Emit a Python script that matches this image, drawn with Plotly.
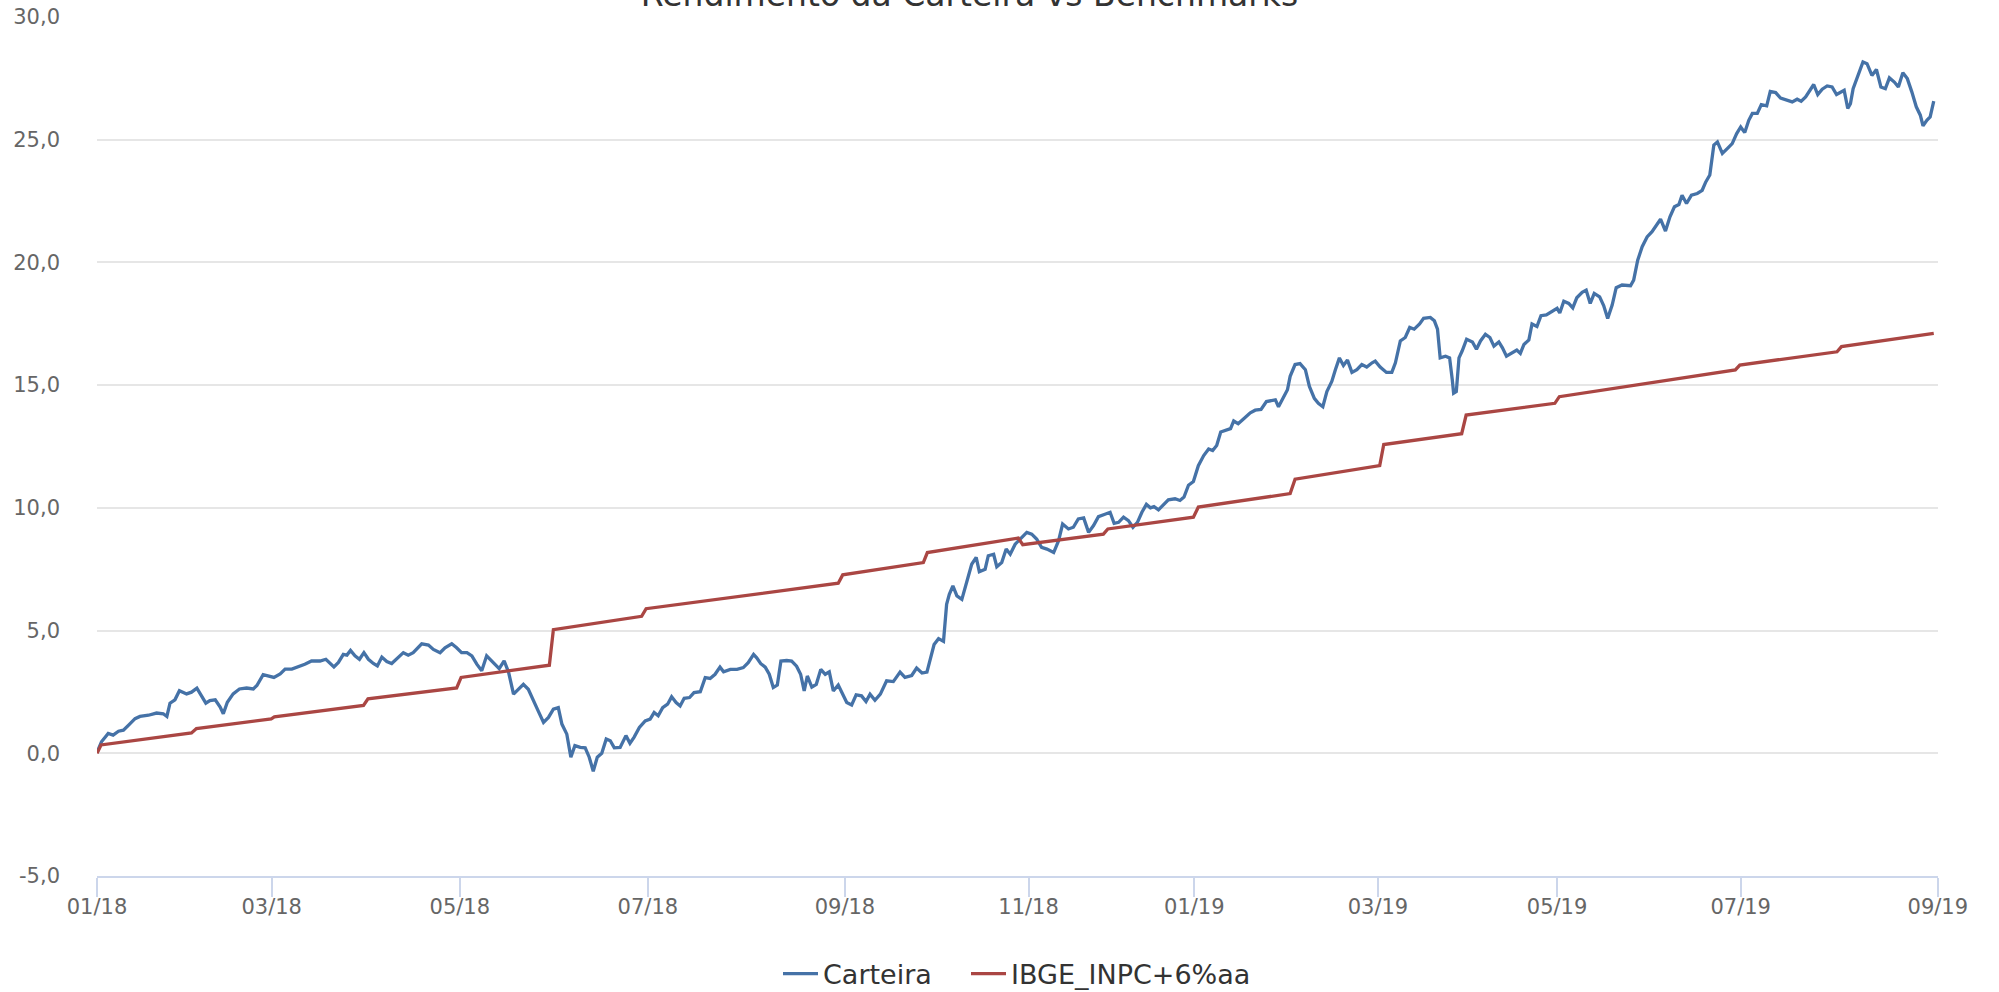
import plotly.graph_objects as go
import numpy as np

# ---------------- data ----------------
titulo = "Rendimento da Carteira vs Benchmarks"
serie_nomes = ["Carteira", "IBGE_INPC+6%aa"]

# trading-day index (pregão) and cumulative return (%) for Carteira
carteira_dia = [
    0, 1.0, 2.5, 3.6, 4.8, 5.9, 7.0, 8.5, 9.6, 11.5, 13.3, 14.8, 15.6, 16.3, 17.4, 18.4, 20.0, 21.1, 22.3, 23.4,
    24.3, 25.2, 26.4, 27.5, 28.2, 29.1, 30.4, 31.8, 33.4, 34.9, 35.7, 37.1, 38.3, 39.5, 40.9, 42.0, 43.5, 45.0,
    46.4, 47.9, 49.8, 51.1, 52.0, 52.9, 53.9, 55.0, 55.8, 56.6, 57.6, 58.6, 59.6, 60.6, 61.7, 62.6, 63.6, 64.7,
    65.8, 66.9, 68.4, 69.5, 70.6, 72.5, 74.0, 75.1, 76.6, 77.7, 79.2, 80.3, 81.4, 82.6, 83.7, 84.8, 85.9, 87.0,
    88.5, 89.8, 90.9, 91.9, 93.0, 94.1, 95.2, 96.3, 97.4, 98.5, 99.7, 100.8, 101.9, 103.0, 103.8, 104.9, 105.8,
    106.7, 107.9, 109.0, 109.9, 110.8, 111.7, 112.7, 113.7, 114.6, 115.5, 116.8, 118.1, 119.0, 119.9, 121.1,
    122.4, 123.5, 124.4, 125.3, 126.3, 127.4, 128.3, 129.3, 130.2, 131.1, 132.3, 133.3, 134.7, 135.8, 136.9,
    138.0, 139.1, 139.9, 141.4, 142.9, 144.3, 145.4, 146.6, 147.3, 148.2, 149.2, 150.1, 151.0, 151.9, 152.7,
    154.0, 155.1, 156.2, 157.1, 157.9, 158.6, 159.6, 160.6, 161.6, 162.6, 163.5, 164.4, 165.5, 166.5, 167.4,
    168.5, 169.5, 170.7, 171.7, 172.6, 173.7, 174.9, 176.3, 177.8, 179.3, 180.4, 181.9, 183.0, 184.2, 185.3,
    186.0, 186.9, 187.9, 189.0, 189.7, 190.3, 191.1, 192.0, 193.1, 194.2, 195.3, 196.3, 197.0, 198.3, 199.0,
    200.2, 200.9, 202.0, 203.0, 203.9, 205.0, 206.5, 207.6, 208.7, 209.8, 210.9, 212.1, 213.6, 214.7, 215.6,
    216.9, 218.0, 219.1, 220.3, 221.4, 222.5, 223.6, 224.9, 226.2, 227.1, 228.1, 229.2, 230.3, 231.3, 232.3,
    233.3, 234.3, 235.2, 236.0, 237.0, 238.1, 239.2, 240.7, 241.8, 242.7, 243.7, 244.8, 245.9, 247.1, 248.2,
    249.1, 250.0, 250.9, 252.3, 253.1, 253.8, 254.8, 256.1, 257.5, 258.6, 259.9, 261.1, 262.3, 263.1, 263.8,
    264.9, 265.8, 266.4, 267.5, 268.6, 269.8, 270.7, 271.8, 272.7, 273.7, 274.6, 275.7, 276.5, 277.4, 278.3,
    279.2, 280.2, 281.3, 282.4, 283.5, 284.7, 285.4, 286.5, 287.9, 289.1, 289.9, 291.0, 292.1, 293.1, 294.1,
    295.3, 296.2, 297.7, 298.6, 299.3, 299.9, 301.1, 302.0, 302.6, 302.9, 303.5, 304.1, 304.8, 305.8, 307.1,
    308.0, 308.9, 310.0, 311.0, 311.9, 313.0, 313.8, 314.7, 316.0, 317.0, 317.8, 318.6, 319.7, 320.4, 321.5,
    322.4, 323.6, 325.0, 326.0, 326.6, 327.5, 328.6, 329.5, 330.4, 331.6, 332.5, 333.4, 334.3, 335.5, 336.4,
    337.3, 338.3, 339.2, 340.5, 342.4, 343.1, 344.0, 345.0, 346.1, 347.2, 348.3, 349.1, 350.2, 351.2, 352.2,
    353.2, 353.9, 354.9, 356.0, 357.3, 358.4, 359.2, 360.1, 361.0, 361.8, 362.9, 364.0, 365.1, 366.1, 367.0,
    367.9, 368.8, 369.6, 370.7, 371.6, 372.8, 373.6, 374.8, 375.9, 377.4, 378.5, 379.6, 380.5, 381.5, 382.4,
    383.3, 384.2, 385.2, 386.3, 387.4, 388.4, 389.2, 390.1, 390.9, 391.5, 392.1, 393.0, 394.3, 395.2, 396.3,
    397.3, 398.3, 399.3, 400.2, 401.3, 402.2, 403.2, 404.2, 405.2, 406.2, 407.1, 407.7, 408.6, 409.3, 410.1,
]
carteira_valor = [
    0.03, 0.47, 0.81, 0.74, 0.90, 0.94, 1.14, 1.41, 1.50, 1.55, 1.64, 1.61, 1.50, 2.04, 2.18, 2.55, 2.42, 2.49, 2.65, 2.28,
    2.04, 2.15, 2.18, 1.88, 1.61, 2.08, 2.42, 2.62, 2.66, 2.62, 2.76, 3.20, 3.16, 3.09, 3.23, 3.43, 3.43, 3.52,
    3.63, 3.76, 3.76, 3.83, 3.66, 3.52, 3.70, 4.03, 4.00, 4.19, 3.97, 3.83, 4.10, 3.83, 3.66, 3.56, 3.92, 3.74,
    3.66, 3.83, 4.10, 4.00, 4.10, 4.46, 4.41, 4.23, 4.10, 4.30, 4.46, 4.30, 4.10, 4.10, 3.97, 3.63, 3.36, 3.97,
    3.70, 3.45, 3.77, 3.30, 2.41, 2.61, 2.81, 2.61, 2.14, 1.73, 1.26, 1.46, 1.80, 1.86, 1.19, 0.78, -0.16,
    0.31, 0.24, 0.22, -0.16, -0.73, -0.16, 0.00, 0.58, 0.51, 0.22, 0.24, 0.72, 0.41, 0.65, 1.05,
    1.32, 1.39, 1.66, 1.53, 1.86, 2.00, 2.30, 2.07, 1.93, 2.24, 2.27, 2.47, 2.51, 3.08, 3.05,
    3.22, 3.51, 3.32, 3.42, 3.42, 3.49, 3.69, 4.03, 3.89, 3.65, 3.51, 3.22, 2.68, 2.78, 3.76,
    3.78, 3.76, 3.55, 3.22, 2.54, 3.15, 2.70, 2.81, 3.42, 3.22, 3.32, 2.54, 2.78, 2.41, 2.07,
    1.97, 2.38, 2.34, 2.11, 2.41, 2.16, 2.41, 2.95, 2.92, 3.31, 3.09, 3.17, 3.47, 3.27, 3.31,
    3.81, 4.43, 4.67, 4.56, 6.07, 6.48, 6.82, 6.41, 6.27, 7.02, 7.70, 7.98, 7.40, 7.50, 8.05,
    8.11, 7.60, 7.77, 8.32, 8.11, 8.52, 8.80, 9.00, 8.93, 8.73, 8.39, 8.32, 8.18, 8.66, 9.34,
    9.14, 9.21, 9.55, 9.59, 9.00, 9.28, 9.64, 9.73, 9.82, 9.37, 9.41, 9.62, 9.48, 9.21, 9.41,
    9.82, 10.14, 10.00, 10.05, 9.92, 10.14, 10.33, 10.37, 10.30, 10.44, 10.92, 11.07, 11.72, 12.13, 12.40,
    12.34, 12.54, 13.09, 13.16, 13.23, 13.54, 13.43, 13.64, 13.87, 13.98, 14.01, 14.33, 14.37, 14.40, 14.12,
    14.53, 14.81, 15.36, 15.84, 15.88, 15.63, 14.95, 14.46, 14.26, 14.12, 14.74, 15.15, 15.63, 16.11, 15.80,
    16.02, 15.52, 15.63, 15.84, 15.74, 15.91, 15.98, 15.74, 15.52, 15.52, 15.91, 16.80, 16.94, 17.35, 17.28,
    17.49, 17.72, 17.76, 17.62, 17.28, 16.11, 16.18, 16.11, 15.22, 14.67, 14.74, 16.11, 16.39, 16.87, 16.76,
    16.46, 16.80, 17.07, 16.94, 16.59, 16.76, 16.52, 16.18, 16.32, 16.43, 16.29, 16.66, 16.84, 17.49, 17.39,
    17.83, 17.86, 18.00, 18.13, 17.94, 18.42, 18.33, 18.15, 18.56, 18.78, 18.87, 18.33, 18.74, 18.60, 18.24,
    17.72, 18.26, 18.97, 19.08, 19.05, 19.28, 20.09, 20.64, 21.04, 21.25, 21.55, 21.76, 21.28, 21.86, 22.27,
    22.36, 22.74, 22.40, 22.74, 22.81, 22.94, 23.28, 23.56, 24.78, 24.91, 24.44, 24.64, 24.84, 25.25, 25.52,
    25.29, 25.79, 26.07, 26.07, 26.43, 26.38, 26.97, 26.92, 26.70, 26.61, 26.54, 26.65, 26.57, 26.74, 27.01,
    27.25, 26.84, 27.06, 27.19, 27.15, 26.84, 26.92, 27.01, 26.27, 26.47, 27.08, 27.56, 28.17, 28.10, 27.62,
    27.86, 27.15, 27.08, 27.52, 27.35, 27.15, 27.73, 27.49, 26.95, 26.34, 26.00, 25.57, 25.80, 25.93, 26.57,
]

# benchmark (vertices of the monthly steps)
bench_dia = [0, 0.9, 21.1, 22.2, 38.9, 39.6, 59.5, 60.5, 80.3, 81.3, 101.0, 101.9, 121.6, 122.6, 165.5, 166.5,
             184.5, 185.4, 205.7, 206.7, 224.7, 225.7, 244.8, 245.9, 266.4, 267.5, 286.4, 287.3, 304.7, 305.7,
             325.5, 326.5, 365.8, 366.8, 388.5, 389.5, 410.1]
bench_valor = [0.00, 0.34, 0.83, 1.01, 1.40, 1.48, 1.95, 2.22, 2.66, 3.09, 3.59, 5.04, 5.58, 5.89, 6.93, 7.27,
               7.77, 8.18, 8.77, 8.50, 8.93, 9.14, 9.62, 10.03, 10.58, 11.17, 11.72, 12.58, 13.02, 13.78,
               14.26, 14.53, 15.62, 15.82, 16.36, 16.57, 17.11]

# trading sessions per month, Jan/2018 .. Aug/2019
pregoes_por_mes = [21, 18, 21, 21, 21, 21, 21, 23, 19, 22, 19, 18, 21, 20, 19, 21, 22, 19, 22, 22]
x_tick_labels = ["01/18", "03/18", "05/18", "07/18", "09/18", "11/18", "01/19", "03/19", "05/19", "07/19", "09/19"]
y_ticks = [-5, 0, 5, 10, 15, 20, 25, 30]
y_tick_labels = ["-5,0", "0,0", "5,0", "10,0", "15,0", "20,0", "25,0", "30,0"]

# ---------------- figure ----------------
cum = np.concatenate([[0], np.cumsum(pregoes_por_mes)])
x_tick_vals = [int(v) for v in cum[::2]]

FONT = "DejaVu Sans"
W, H = 1999, 992
fig = go.Figure()
fig.add_trace(go.Scatter(x=carteira_dia, y=carteira_valor, mode="lines", name=serie_nomes[0],
                         line=dict(color="#4572A7", width=3.3), legend="legend"))
fig.add_trace(go.Scatter(x=bench_dia, y=bench_valor, mode="lines", name=serie_nomes[1],
                         line=dict(color="#AA4643", width=3.3), legend="legend2"))

legend_common = dict(orientation="h", yref="container", y=1 - 974 / H, yanchor="middle",
                     xref="container", xanchor="left", itemwidth=35,
                     font=dict(family=FONT, size=27, color="#333333"),
                     bgcolor="rgba(0,0,0,0)", borderwidth=0)

fig.update_layout(
    template="none",
    width=W, height=H,
    paper_bgcolor="white", plot_bgcolor="white",
    margin=dict(l=97, r=61, t=17, b=116, pad=0),
    font=dict(family=FONT, color="#666666"),
    title=dict(text=titulo, font=dict(family=FONT, size=33, color="#333333"),
               x=0.485, xref="container", xanchor="center",
               y=1 - 6 / H, yref="container", yanchor="bottom"),
    showlegend=True,
    legend=dict(x=778 / W, **legend_common),
    legend2=dict(x=966 / W, **legend_common),
)
fig.update_xaxes(
    range=[0, x_tick_vals[-1] + 0.05],
    tickmode="array", tickvals=x_tick_vals, ticktext=x_tick_labels,
    showgrid=False, zeroline=False, automargin=False,
    showline=True, linecolor="#ccd6eb", linewidth=2,
    ticks="outside", ticklen=19, tickcolor="#ccd6eb", tickwidth=2,
    ticklabelstandoff=-8,
    tickfont=dict(family=FONT, size=21, color="#666666"),
)
fig.update_yaxes(
    range=[-5, 30],
    tickmode="array", tickvals=y_ticks, ticktext=y_tick_labels,
    showgrid=True, gridcolor="#e6e6e6", gridwidth=1.5,
    zeroline=False, showline=False, ticks="", automargin=False,
    ticklabelstandoff=36,
    tickfont=dict(family=FONT, size=21, color="#666666"),
)

fig.write_html("out.html", config={"displayModeBar": False},
               post_script="document.body.style.margin='0';document.body.style.overflow='hidden';")
